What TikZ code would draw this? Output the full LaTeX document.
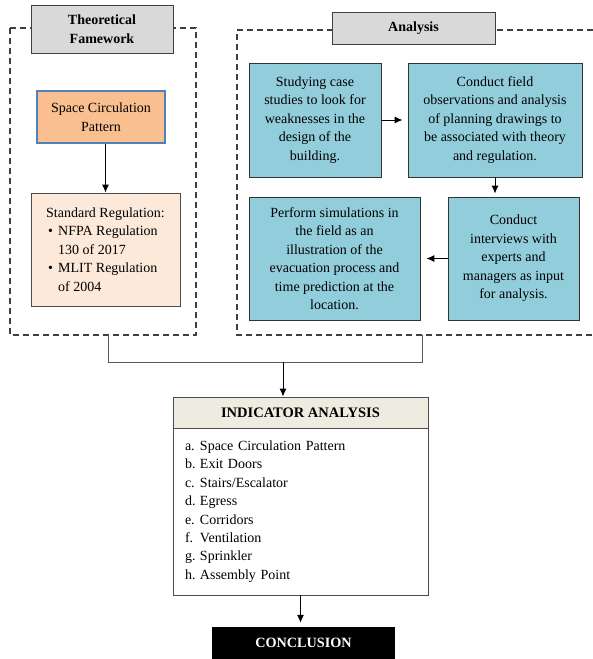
\documentclass[tikz,border=0pt]{standalone}
\usepackage{fontspec}
\setmainfont{Liberation Serif}
\usetikzlibrary{arrows.meta}
\definecolor{hdrgray}{HTML}{D9D9D9}
\definecolor{hdrline}{HTML}{404040}
\definecolor{orangefill}{HTML}{F9BF8F}
\definecolor{blueline}{HTML}{4F81BD}
\definecolor{peach}{HTML}{FDE9D9}
\definecolor{aqua}{HTML}{92CDDC}
\definecolor{beige}{HTML}{EEECE1}

\begin{document}
\begin{tikzpicture}[x=1pt, y=-1pt, >={Latex[length=8pt,width=7pt]},
  every node/.style={font=\fontsize{14}{18.5}\selectfont, align=center, inner sep=0pt},
  header/.style={draw=hdrline, fill=hdrgray, line width=1pt, font=\fontsize{14}{19}\selectfont\bfseries},
  stepbox/.style={draw=black!80, fill=aqua, line width=0.8pt},
  frame/.style={draw=black!75, line width=1.1pt, dash pattern=on 6pt off 4pt},
  bracket/.style={draw=black!65, line width=1pt},
  arrow/.style={->, line width=1pt}]
\useasboundingbox (0,0) rectangle (593,659);

% dashed frames
\draw [frame] (10,28) rectangle (196,335);
\draw [frame] (593,30) -- (237,30) -- (237,335) -- (593,335);

% theoretical framework
\node (TF) at (102,29) [header, minimum width=142pt, minimum height=48pt] {Theoretical\\ Famework};
\node (SCP) at (101,117) [draw=blueline, fill=orangefill, line width=2.5pt, minimum width=128pt, minimum height=52pt] {Space Circulation\\ Pattern};
\node (SR) at (105.5,249.5) [draw=black!70, fill=peach, line width=0.8pt, minimum width=149pt, minimum height=113pt, align=left] {Standard Regulation:\\
\hspace*{2pt}\makebox[10pt][l]{\textbullet}NFPA Regulation\\
\hspace*{12pt}130 of 2017\\
\hspace*{2pt}\makebox[10pt][l]{\textbullet}MLIT Regulation\\
\hspace*{12pt}of 2004};

% analysis
\node (AN) at (413.5,28) [header, minimum width=163pt, minimum height=32pt] {Analysis};
\node (B1) at (315,120) [stepbox, minimum width=132pt, minimum height=114pt] {Studying case\\ studies to look for\\ weaknesses in the\\ design of the\\ building.};
\node (B2) at (495,120) [stepbox, minimum width=174pt, minimum height=114pt] {Conduct field\\ observations and analysis\\ of planning drawings to\\ be associated with theory\\ and regulation.};
\node (B3) at (334.5,258.5) [stepbox, minimum width=171pt, minimum height=123pt] {Perform simulations in\\ the field as an\\ illustration of the\\ evacuation process and\\ time prediction at the\\ location.};
\node (B4) at (513.5,258.5) [stepbox, minimum width=131pt, minimum height=123pt] {Conduct\\ interviews with\\ experts and\\ managers as input\\ for analysis.};

% indicator and conclusion
\node (IAh) at (300.5,412.5) [draw=black!70, fill=beige, line width=0.8pt, minimum width=255pt, minimum height=31pt, font=\fontsize{14.5}{18.5}\selectfont\bfseries] {INDICATOR ANALYSIS};
\node (IA) at (300.5,511.5) [draw=black!70, line width=0.8pt, minimum width=255pt, minimum height=167pt, text width=231pt, inner xsep=12pt, align=left, font=\fontsize{14}{18.4}\selectfont] {\makebox[15pt][l]{a.}Space Circulation Pattern\\ \makebox[15pt][l]{b.}Exit Doors\\ \makebox[15pt][l]{c.}Stairs/Escalator\\ \makebox[15pt][l]{d.}Egress\\ \makebox[15pt][l]{e.}Corridors\\ \makebox[15pt][l]{f.}Ventilation\\ \makebox[15pt][l]{g.}Sprinkler\\ \makebox[15pt][l]{h.}Assembly Point};
\node (CON) at (303.5,643) [fill=black, text=white, minimum width=183pt, minimum height=32pt, font=\fontsize{14.2}{18.5}\selectfont\bfseries] {CONCLUSION};

\coordinate (LBk) at (108,335);
\coordinate (RBk) at (422,335);
\coordinate (Jn) at (283,362);

\draw [arrow] (SR.north |- SCP.south) -- (SR.north);
\draw [arrow, shorten >=5pt] (B1) -- (B2);
\draw [arrow, shorten >=3pt] (B2.south) -- (B2.south |- B4.north);
\draw [arrow, shorten >=6pt] (B4) -- (B3);
\draw [bracket] (LBk) -- (LBk |- Jn) -- (RBk |- Jn) -- (RBk);
\draw [arrow] (Jn) -- (Jn |- IAh.north);
\draw [arrow, shorten >=4pt] (IA.south) -- (IA.south |- CON.north);
\end{tikzpicture}
\end{document}
